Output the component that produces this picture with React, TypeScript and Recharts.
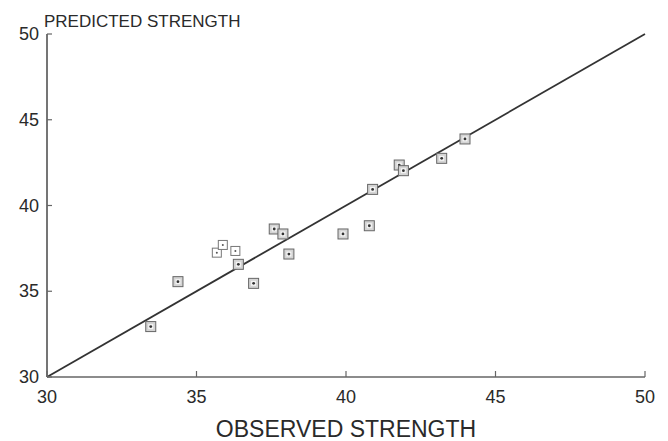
import React from "react";
import { ScatterChart, Scatter, XAxis, YAxis, ReferenceLine, Label } from "recharts";

const filledPoints = [
  { x: 33.47, y: 32.94 },
  { x: 34.38, y: 35.56 },
  { x: 36.4, y: 36.57 },
  { x: 36.91, y: 35.46 },
  { x: 37.6, y: 38.63 },
  { x: 37.89, y: 38.34 },
  { x: 38.09, y: 37.17 },
  { x: 39.9, y: 38.34 },
  { x: 40.78, y: 38.82 },
  { x: 40.89, y: 40.94 },
  { x: 41.78, y: 42.36 },
  { x: 41.92, y: 42.03 },
  { x: 43.2, y: 42.75 },
  { x: 43.98, y: 43.88 },
];

const openPoints = [
  { x: 35.68, y: 37.25 },
  { x: 35.88, y: 37.7 },
  { x: 36.3, y: 37.35 },
];

const xTicks = [30, 35, 40, 45, 50];
const yTicks = [30, 35, 40, 45, 50];
const identityLine = [
  { x: 30, y: 30 },
  { x: 50, y: 50 },
];

const FONT = '"Liberation Sans", Arial, Helvetica, sans-serif';
const TEXT = "#2a2a2a";
const AXIS = "#666";

const XTick = (props: any) => {
  const { x, y, payload } = props;
  return (
    <g>
      <line x1={x} y1={y} x2={x} y2={y - 6} stroke={AXIS} strokeWidth={1.2} />
      <text x={x} y={y + 26} textAnchor="middle" fontSize={18} fontFamily={FONT} fill={TEXT}>
        {payload.value}
      </text>
    </g>
  );
};

const YTick = (props: any) => {
  const { x, y, payload } = props;
  return (
    <g>
      <line x1={x} y1={y} x2={x + 5} y2={y} stroke={AXIS} strokeWidth={1.2} />
      <text x={x - 8} y={y + 6} textAnchor="end" fontSize={18} fontFamily={FONT} fill={TEXT}>
        {payload.value}
      </text>
    </g>
  );
};

const FilledMarker = (props: any) => {
  const { cx, cy } = props;
  if (cx == null || cy == null) return null;
  return (
    <g>
      <rect x={cx - 5} y={cy - 5} width={10} height={10} fill="#d4d4d4" stroke="#666" strokeWidth={1} />
      <rect x={cx - 2.5} y={cy - 2.5} width={5} height={5} fill="#f4f4f4" stroke="none" />
      <circle cx={cx} cy={cy} r={1.4} fill="#333" />
    </g>
  );
};

const OpenMarker = (props: any) => {
  const { cx, cy } = props;
  if (cx == null || cy == null) return null;
  return (
    <g>
      <rect x={cx - 4.5} y={cy - 4.5} width={9} height={9} fill="#fff" stroke="#777" strokeWidth={1} />
      <circle cx={cx} cy={cy} r={1} fill="#555" />
    </g>
  );
};

const YTitle = (props: any) => {
  const vb = props.viewBox || { x: 0, y: 34, width: 47 };
  return (
    <text
      x={vb.x + vb.width - 3}
      y={vb.y - 7}
      fontSize={17}
      fontFamily={FONT}
      fill={TEXT}
      textAnchor="start"
    >
      PREDICTED STRENGTH
    </text>
  );
};

export default function App() {
  return (
    <div style={{ position: "absolute", left: 0, top: 0, background: "#fff" }}>
      <ScatterChart
        width={668}
        height={441}
        margin={{ top: 34, right: 23, left: 0, bottom: 0 }}
      >
        <XAxis
          type="number"
          dataKey="x"
          domain={[30, 50]}
          ticks={xTicks}
          allowDataOverflow
          height={64}
          tickSize={0}
          tickMargin={0}
          tickLine={false}
          axisLine={{ stroke: AXIS, strokeWidth: 1.5 }}
          tick={<XTick />}
          interval={0}
        >
          <Label
            value="OBSERVED STRENGTH"
            position="insideBottom"
            offset={4}
            fontSize={23}
            fontFamily={FONT}
            fill={TEXT}
          />
        </XAxis>
        <YAxis
          type="number"
          dataKey="y"
          domain={[30, 50]}
          ticks={yTicks}
          allowDataOverflow
          width={47}
          tickSize={0}
          tickMargin={0}
          tickLine={false}
          axisLine={{ stroke: AXIS, strokeWidth: 1.8 }}
          tick={<YTick />}
          interval={0}
        >
          <Label content={<YTitle />} position="top" />
        </YAxis>
        <ReferenceLine
          segment={identityLine}
          stroke="#333"
          strokeWidth={1.8}
          ifOverflow="visible"
        />
        <Scatter data={filledPoints} shape={<FilledMarker />} isAnimationActive={false} />
        <Scatter data={openPoints} shape={<OpenMarker />} isAnimationActive={false} />
      </ScatterChart>
    </div>
  );
}
